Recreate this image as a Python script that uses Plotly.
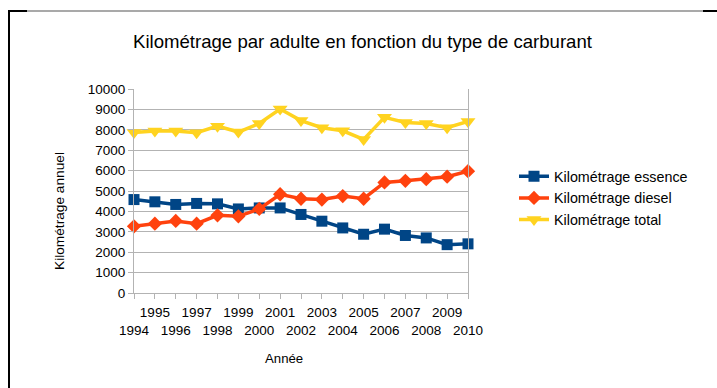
import plotly.graph_objects as go

# Data: yearly mileage per adult by fuel type
years = list(range(1994, 2011))
essence = [4580, 4470, 4340, 4390, 4370, 4120, 4170, 4170, 3850, 3520,
           3190, 2880, 3130, 2820, 2700, 2370, 2410]
diesel = [3270, 3400, 3535, 3400, 3810, 3760, 4120, 4840, 4620, 4580,
          4750, 4620, 5420, 5500, 5580, 5700, 5970]
total = [7870, 7940, 7940, 7860, 8180, 7890, 8310, 9020, 8450, 8100,
         7950, 7530, 8610, 8360, 8310, 8100, 8410]
series_names = ["Kilométrage essence", "Kilométrage diesel", "Kilométrage total"]
y_ticks = list(range(0, 10001, 1000))
y_ticktext = [str(v) for v in y_ticks]
# Staggered year labels: odd years on the first row, even years on the second
x_ticktext = [str(y) if y % 2 else "<br>" + str(y) for y in years]

W, H = 717, 388
L, R, T, B = 134, 468, 89, 293  # plot area in pixels


def px(xp):
    return (xp - L) / (R - L)


def py(yp):
    return (B - yp) / (B - T)


FONT = "Liberation Sans, Arial, sans-serif"
GRID = "#b3b3b3"

fig = go.Figure()
styles = [
    dict(color="#004586", symbol="square", size=11),
    dict(color="#ff420e", symbol="diamond", size=11),
    dict(color="#ffd320", symbol="triangle-down", size=13),
]
for name, vals, st in zip(series_names, [essence, diesel, total], styles):
    fig.add_trace(go.Scatter(
        x=years, y=vals, name=name, mode="lines+markers",
        line=dict(color=st["color"], width=3.5),
        marker=dict(color=st["color"], symbol=st["symbol"], size=st["size"],
                    line=dict(width=0)),
        cliponaxis=False,
    ))

fig.update_layout(
    width=W, height=H,
    margin=dict(l=L, r=W - R, t=T, b=H - B, autoexpand=False),
    paper_bgcolor="white", plot_bgcolor="white",
    font=dict(family=FONT, color="#000000", size=13.5),
    showlegend=True,
    legend=dict(x=px(514), y=py(198), xanchor="left", yanchor="middle",
                font=dict(size=14.3, family=FONT), bgcolor="rgba(0,0,0,0)",
                itemwidth=30, tracegroupgap=0),
    xaxis=dict(range=[1994, 2010], tickvals=years, ticktext=x_ticktext,
               tickangle=0, showgrid=False, zeroline=False, showline=True,
               linecolor=GRID, linewidth=1, ticks="outside", ticklen=5,
               tickcolor=GRID, tickfont=dict(size=13.5), ticklabelstandoff=2,
               fixedrange=True),
    yaxis=dict(range=[0, 10000], tickvals=y_ticks, ticktext=y_ticktext,
               showgrid=True, gridcolor=GRID, gridwidth=1, zeroline=False,
               showline=True, linecolor=GRID, linewidth=1, mirror=True,
               ticks="outside", ticklen=5, tickcolor=GRID,
               tickfont=dict(size=13.5)),
    annotations=[
        dict(text="Kilométrage par adulte en fonction du type de carburant",
             x=px(363), y=py(42), xref="paper", yref="paper",
             showarrow=False, font=dict(size=18.6, family=FONT),
             xanchor="center", yanchor="middle"),
        dict(text="Kilométrage annuel", x=px(59), y=py(211),
             xref="paper", yref="paper", textangle=-90, showarrow=False,
             font=dict(size=13.7, family=FONT),
             xanchor="center", yanchor="middle"),
        dict(text="Année", x=px(284), y=py(358), xref="paper", yref="paper",
             showarrow=False, font=dict(size=13.2, family=FONT),
             xanchor="center", yanchor="middle"),
    ],
    shapes=[
        # outer frame: left edge and top edge
        dict(type="line", xref="paper", yref="paper",
             x0=px(9), x1=px(9), y0=py(10), y1=py(H + 2),
             line=dict(color="black", width=2)),
        dict(type="line", xref="paper", yref="paper",
             x0=px(27), x1=px(703), y0=py(11), y1=py(11),
             line=dict(color="#8c8c8c", width=1.5)),
        dict(type="line", xref="paper", yref="paper",
             x0=px(8), x1=px(27), y0=py(11), y1=py(11),
             line=dict(color="black", width=2)),
        dict(type="line", xref="paper", yref="paper",
             x0=px(703), x1=px(W + 2), y0=py(11), y1=py(11),
             line=dict(color="black", width=2)),
    ],
)

fig.write_html("out.html")
